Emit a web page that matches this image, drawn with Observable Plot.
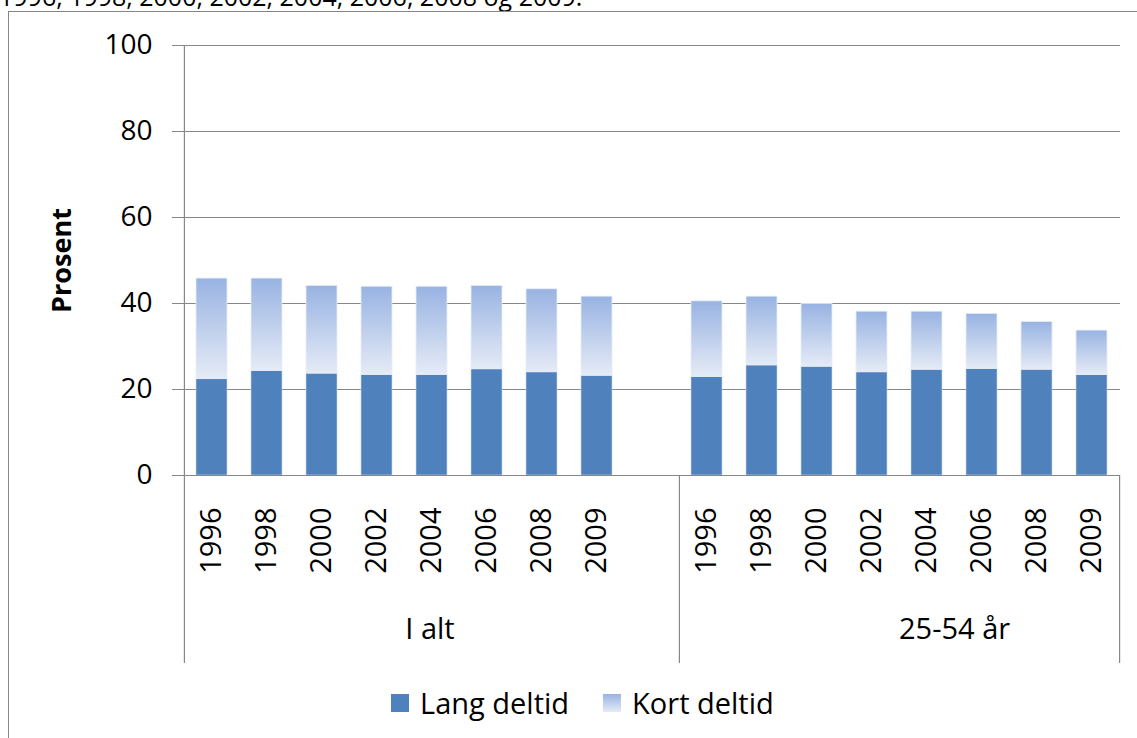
<!DOCTYPE html>
<html>
<head>
<meta charset="utf-8">
<script src="https://cdn.jsdelivr.net/npm/d3@7"></script>
<script src="https://cdn.jsdelivr.net/npm/@observablehq/plot@0.6"></script>
<style>
  html, body { margin: 0; padding: 0; background: #fff; overflow: hidden; }
  body { width: 1137px; height: 738px; position: relative; font-family: "Open Sans", sans-serif; }
  #title { position: absolute; left: -1px; top: -16px; font-size: 25px; line-height: 25px; white-space: nowrap; color: #000; }
  #box { position: absolute; left: 8px; top: 11px; width: 1200px; height: 800px; border: 1.5px solid #878787; box-sizing: border-box; }
  #chart { position: absolute; left: 0; top: 0; }
  #legend { position: absolute; left: 391px; top: 685px; display: flex; align-items: center; font-size: 29px; line-height: 36px; color: #000; }
  .sw { width: 18px; height: 18px; margin-right: 11px; }
  .item { display: flex; align-items: center; margin-right: 34px; }
</style>
</head>
<body>
<div id="title">1996, 1998, 2000, 2002, 2004, 2006, 2008 og 2009.</div>
<div id="box"></div>
<div id="chart"></div>
<div id="legend"></div>
<script>
// ---- data ----
const groups = ["I alt", "25-54 år"];
const years = ["1996", "1998", "2000", "2002", "2004", "2006", "2008", "2009"];
const seriesNames = ["Lang deltid", "Kort deltid"];
const langIalt = [22.4, 24.3, 23.7, 23.4, 23.4, 24.7, 24.0, 23.2];
const kortIalt = [23.4, 21.5, 20.4, 20.5, 20.5, 19.4, 19.3, 18.4];
const lang2554 = [22.9, 25.6, 25.3, 24.0, 24.6, 24.8, 24.6, 23.4];
const kort2554 = [17.6, 16.0, 14.6, 14.1, 13.5, 12.8, 11.1, 10.3];
const yTicks = [0, 20, 40, 60, 80, 100];

// ---- build table ----
const langByGroup = [langIalt, lang2554];
const kortByGroup = [kortIalt, kort2554];
const keys = [];
const rows = [];
groups.forEach((g, gi) => {
  years.forEach((yr, i) => {
    const key = g + "|" + yr;
    keys.push(key);
    rows.push({key, group: g, year: yr, lang: langByGroup[gi][i], kort: kortByGroup[gi][i]});
  });
  if (gi === 0) keys.push(g + "|"); // empty category gap after first group
});

const W = 1137, H = 680;
const mL = 182, mR = W - 1120, mT = 45, mB = H - 475;
const step = (W - mL - mR) / keys.length;
const half = step / 2;
const grid = "#878787";

const defs = () => {
  const d = d3.create("svg:defs");
  const lg = d.append("linearGradient").attr("id", "kortGrad")
    .attr("x1", 0).attr("y1", 0).attr("x2", 0).attr("y2", 1);
  lg.append("stop").attr("offset", "0%").attr("stop-color", "#98b3e2");
  lg.append("stop").attr("offset", "100%").attr("stop-color", "#e5ebf6");
  return d.node();
};

const firstOf = groups.map(g => g + "|" + years[0]);
const lastKey = keys[keys.length - 1];

const chart = Plot.plot({
  width: W,
  height: H,
  marginLeft: mL,
  marginRight: mR,
  marginTop: mT,
  marginBottom: mB,
  style: {fontFamily: "Open Sans, sans-serif", background: "transparent", overflow: "visible"},
  x: {type: "band", domain: keys, paddingInner: 0.44, paddingOuter: 0.22},
  y: {domain: [0, 100]},
  marks: [
    defs,
    Plot.gridY(yTicks.slice(1), {stroke: grid, strokeOpacity: 1, strokeWidth: 1}),
    Plot.barY(rows, {x: "key", y1: 0, y2: "lang", fill: "#4f81bd", stroke: "#c9d7ee", strokeWidth: 0.6}),
    Plot.barY(rows, {x: "key", y1: "lang", y2: d => d.lang + d.kort, fill: "url(#kortGrad)", stroke: "#e6edf8", strokeWidth: 0.8}),
    Plot.ruleY([0], {stroke: grid, strokeWidth: 1.2}),
    // left axis line + group separators
    Plot.ruleX([firstOf[0]], {x: d => d, dx: -half, insetBottom: -188, stroke: grid, strokeWidth: 1.2}),
    Plot.ruleX([firstOf[1]], {x: d => d, dx: -half, insetTop: H - mT - mB, insetBottom: -188, stroke: grid, strokeWidth: 1.2}),
    Plot.ruleX([lastKey], {x: d => d, dx: half, insetTop: H - mT - mB, insetBottom: -188, stroke: grid, strokeWidth: 1.2}),
    Plot.axisY({ticks: yTicks, tickSize: 10, tickPadding: 20, fontSize: 28, stroke: grid, fill: "#000", label: null}),
    Plot.axisX({tickRotate: -90, tickSize: 0, tickPadding: 32, fontSize: 29, fill: "#000", label: null,
      tickFormat: k => k.split("|")[1]}),
    Plot.text(["Prosent"], {frameAnchor: "left", textAnchor: "middle", rotate: -90, dx: -120, fontSize: 27, fontWeight: "bold", fill: "#000"}),
    Plot.text([groups[0]], {x: [groups[0] + "|" + years[4]], frameAnchor: "bottom", dy: 163, dx: -2, fontSize: 29, fill: "#000", text: d => d}),
    Plot.text([groups[1]], {x: [groups[1] + "|" + years[4]], frameAnchor: "bottom", dy: 163, dx: half, fontSize: 29, fill: "#000", text: d => d})
  ]
});
document.getElementById("chart").appendChild(chart);

// legend
const legend = document.getElementById("legend");
const fills = ["#4f81bd", "linear-gradient(to bottom, #98b3e2, #e5ebf6)"];
seriesNames.forEach((s, i) => {
  const item = document.createElement("div");
  item.className = "item";
  const sw = document.createElement("div");
  sw.className = "sw";
  sw.style.background = fills[i];
  const t = document.createElement("span");
  t.textContent = s;
  item.appendChild(sw);
  item.appendChild(t);
  legend.appendChild(item);
});
</script>
</body>
</html>
